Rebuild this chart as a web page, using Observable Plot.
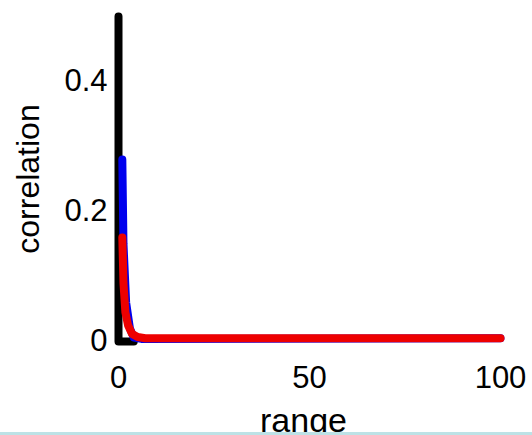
<!DOCTYPE html>
<html>
<head>
<meta charset="utf-8">
<script src="https://cdn.jsdelivr.net/npm/d3@7"></script>
<script src="https://cdn.jsdelivr.net/npm/@observablehq/plot@0.6"></script>
<style>
  html, body { margin: 0; padding: 0; background: white; }
  #chart { width: 532px; height: 432px; overflow: hidden; }
  #band { width: 532px; height: 3px; background: #bde2e6; }
</style>
</head>
<body>
<div id="chart"></div>
<div id="band"></div>
<script>
// Data
const blackRange = [0, 0, 4];
const blackCorr  = [0.5, 0.0, 0.0];
const blueRange  = [1, 1.3, 2, 3, 4, 6, 100];
const blueCorr   = [0.28, 0.15, 0.06, 0.02, 0.006, 0.004, 0.005];
const redRange   = [1, 1.3, 1.8, 2.5, 3.5, 5, 7, 100];
const redCorr    = [0.16, 0.09, 0.045, 0.025, 0.012, 0.007, 0.005, 0.005];
const xTicks = [0, 50, 100];
const yTicks = [0, 0.2, 0.4];
const xLabel = "range";
const yLabel = "correlation";

const toRows = (r, c) => r.map((x, i) => ({range: x, corr: c[i]}));
const black = toRows(blackRange, blackCorr);
const blue = toRows(blueRange, blueCorr);
const red = toRows(redRange, redCorr);

const chart = Plot.plot({
  width: 532,
  height: 432,
  marginLeft: 118,
  marginRight: 32,
  marginTop: 16,
  marginBottom: 91,
  style: {fontFamily: "Liberation Sans, Arial, sans-serif", fontSize: "31px", background: "white", color: "black"},
  x: {domain: [0, 100], ticks: xTicks, tickSize: 0, tickPadding: 24, label: null, tickFormat: d => `${d}`},
  y: {domain: [0, 0.5], ticks: yTicks, tickSize: 0, tickPadding: 11, label: null, tickFormat: d => `${d}`},
  marks: [
    Plot.line(black, {x: "range", y: "corr", stroke: "black", strokeWidth: 8}),
    Plot.line(blue, {x: "range", y: "corr", stroke: "#0000ee", strokeWidth: 8}),
    Plot.line(red, {x: "range", y: "corr", stroke: "#ee0000", strokeWidth: 8}),
    Plot.text([yLabel], {frameAnchor: "left", text: d => d, rotate: -90, dx: -90, fontSize: 32, textAnchor: "middle", lineAnchor: "middle"}),
    Plot.text([xLabel], {frameAnchor: "bottom", text: d => d, dx: -6, dy: 80, fontSize: 34, textAnchor: "middle", lineAnchor: "middle"})
  ]
});
document.getElementById("chart").appendChild(chart);
</script>
</body>
</html>
